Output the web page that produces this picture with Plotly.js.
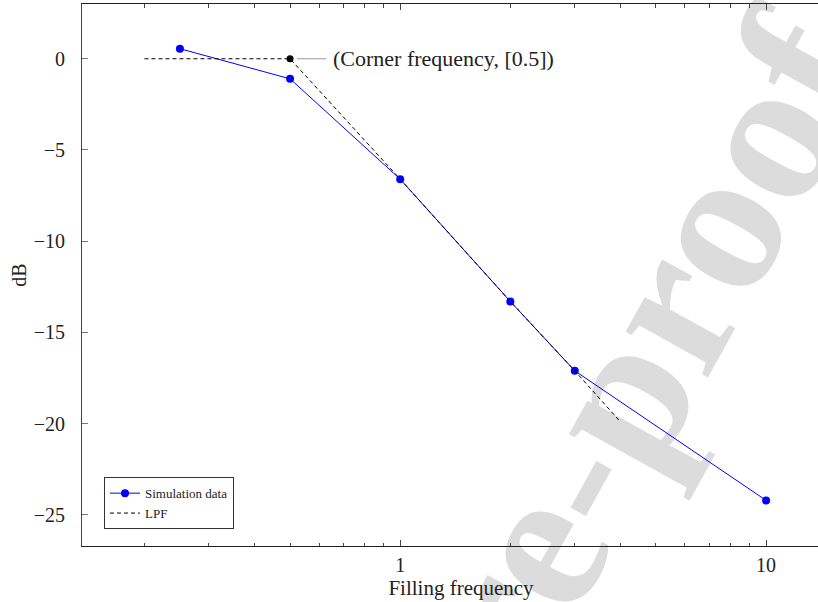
<!DOCTYPE html>
<html>
<head>
<meta charset="utf-8">
<script src="https://cdn.plot.ly/plotly-3.0.1.min.js"></script>
<style>
  html, body { margin: 0; padding: 0; background: #ffffff; overflow: hidden; width: 818px; height: 602px; }
  #wm { position: absolute; left: 0; top: 0; z-index: 0; }
  #chart { position: absolute; left: 0; top: 0; z-index: 1; width: 840px; height: 602px; }
</style>
</head>
<body>
<svg id="wm" width="818" height="602" xmlns="http://www.w3.org/2000/svg">
  <text x="880" y="67" text-anchor="end" transform="rotate(-61 880 67)"
        font-family="Liberation Serif" font-weight="bold" font-size="205" fill="#dcdcdc">Journal Pre-proof</text>
</svg>
<div id="chart"></div>
<script>
// ---- data ----
const simFreq = [0.25, 0.5, 1, 2, 3, 10];
const simDb   = [0.55, -1.1, -6.6, -13.3, -17.1, -24.2];
const lpfFreq = [0.2, 0.5, 1, 2, 3, 4];
const lpfDb   = [0, 0, -6.6, -13.3, -17.1, -19.9];
const cornerFreq = [0.5];
const cornerDb   = [0];
const xMajorTicks = [1, 10];
const xMajorLabels = ['1', '10'];
const xMinorTicks = [0.2, 0.3, 0.4, 0.5, 0.6, 0.7, 0.8, 0.9, 2, 3, 4, 5, 6, 7, 8, 9];
const yTicks = [-25, -20, -15, -10, -5, 0];
const cornerLabel = '(Corner frequency, [0.5])';

const FONT = 'Liberation Serif, Times New Roman, serif';

const traces = [
  {
    x: simFreq, y: simDb, name: 'Simulation data', type: 'scatter', mode: 'lines+markers',
    line: {color: '#0000ff', width: 1},
    marker: {color: '#0000ff', size: 8, symbol: 'circle'}
  },
  {
    x: lpfFreq, y: lpfDb, name: 'LPF', type: 'scatter', mode: 'lines',
    line: {color: '#000000', width: 1, dash: '4px,3px'}
  },
  {
    x: cornerFreq, y: cornerDb, type: 'scatter', mode: 'markers', showlegend: false,
    marker: {color: '#000000', size: 7}
  }
];

const layout = {
  width: 840, height: 602,
  margin: {l: 82, r: 0, t: 4, b: 56},
  paper_bgcolor: 'rgba(0,0,0,0)',
  plot_bgcolor: 'rgba(0,0,0,0)',
  font: {family: FONT, size: 20, color: '#222'},
  showlegend: true,
  legend: {
    x: 0.029, y: 0.031, xanchor: 'left', yanchor: 'bottom',
    bgcolor: '#ffffff', bordercolor: '#333', borderwidth: 1,
    font: {family: FONT, size: 13, color: '#222'},
    tracegroupgap: 0
  },
  xaxis: {
    type: 'log',
    range: [Math.log10(0.135), 1.202],
    tickmode: 'array', tickvals: xMajorTicks, ticktext: xMajorLabels,
    ticks: 'inside', ticklen: 6, tickcolor: '#444', tickwidth: 1,
    minor: {tickmode: 'array', tickvals: xMinorTicks, ticks: 'inside', ticklen: 3.5, tickcolor: '#444', tickwidth: 1, showgrid: false},
    showline: true, linecolor: '#222', linewidth: 1, mirror: 'allticks',
    showgrid: false, zeroline: false,
    ticklabelstandoff: 1,
    title: {text: 'Filling frequency', font: {family: FONT, size: 21, color: '#222'}, standoff: 1}
  },
  yaxis: {
    range: [-26.7, 3.0],
    tickmode: 'array', tickvals: yTicks,
    ticks: 'inside', ticklen: 6, tickcolor: '#777', tickwidth: 1,
    showline: true, linecolor: '#444', linewidth: 1, mirror: true,
    showgrid: false, zeroline: false,
    ticklabelstandoff: 12,
    title: {text: 'dB', font: {family: FONT, size: 20, color: '#222'}, standoff: 1}
  },
  annotations: [{
    x: Math.log10(cornerFreq[0]), y: cornerDb[0], xref: 'x', yref: 'y',
    text: cornerLabel, showarrow: true, arrowhead: 0, arrowcolor: '#999', arrowwidth: 1,
    ax: 36, ay: 0, xanchor: 'left', yanchor: 'middle', borderpad: 6, standoff: 7,
    font: {family: FONT, size: 22, color: '#222'}
  }]
};

Plotly.newPlot('chart', traces, layout, {displayModeBar: false, staticPlot: true});
</script>
</body>
</html>
